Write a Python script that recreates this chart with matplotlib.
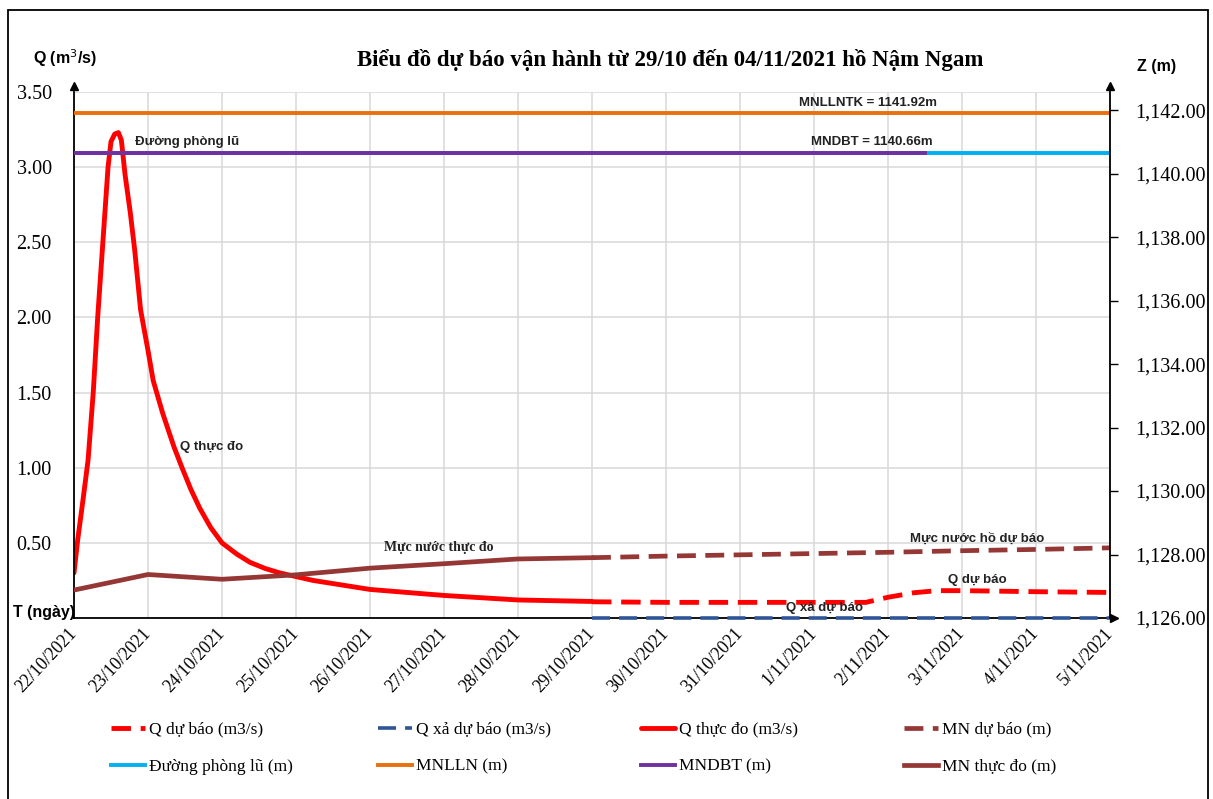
import matplotlib
matplotlib.use("Agg")
import matplotlib.pyplot as plt
from matplotlib.patches import Rectangle

SERIF = "Liberation Serif"
SANS = "Liberation Sans"

# ngày tính từ 22/10/2021
date_labels = ["22/10/2021", "23/10/2021", "24/10/2021", "25/10/2021", "26/10/2021",
               "27/10/2021", "28/10/2021", "29/10/2021", "30/10/2021", "31/10/2021",
               "1/11/2021", "2/11/2021", "3/11/2021", "4/11/2021", "5/11/2021"]
date_pos = list(range(len(date_labels)))

# Q thực đo (m3/s)
q_obs_t = [0, 0.05, 0.12, 0.19, 0.26, 0.32, 0.39, 0.46, 0.5, 0.55, 0.6, 0.64, 0.69, 0.76,
           0.82, 0.9, 1.0, 1.07, 1.2, 1.35, 1.46, 1.58, 1.7, 1.85, 2.0, 2.2, 2.38, 2.58,
           2.78, 3.23, 4, 5, 6, 7]
q_obs = [0.30, 0.52, 0.78, 1.05, 1.50, 2.00, 2.50, 3.00, 3.17, 3.22, 3.23, 3.18, 2.95, 2.70,
         2.45, 2.05, 1.78, 1.58, 1.36, 1.14, 1.00, 0.855, 0.73, 0.60, 0.50, 0.425, 0.37,
         0.33, 0.30, 0.25, 0.19, 0.15, 0.12, 0.11]

# Q dự báo (m3/s)
q_fc_t = [7, 8, 9, 10, 10.7, 11, 11.35, 11.66, 12, 13, 14]
q_fc = [0.108, 0.104, 0.104, 0.104, 0.104, 0.138, 0.168, 0.182, 0.182, 0.175, 0.17]

# Q xả dự báo (m3/s)
q_xa_t = [7, 8, 9, 10, 11, 12, 13, 14]
q_xa = [0, 0, 0, 0, 0, 0, 0, 0]

# MN thực đo (m)
z_obs_t = [0, 1, 2, 3, 4, 5, 6, 7]
z_obs = [1126.88, 1127.37, 1127.22, 1127.36, 1127.57, 1127.71, 1127.86, 1127.90]

# MN dự báo (m)
z_fc_t = [7, 8, 9, 10, 11, 12, 13, 14]
z_fc = [1127.90, 1127.95, 1127.99, 1128.03, 1128.07, 1128.12, 1128.16, 1128.21]

# mực nước đặc trưng
mnlln_t = [0, 14]
mnlln = [1141.92, 1141.92]
phonglu_t = [0, 14]
phonglu = [1140.66, 1140.66]
mndbt_t = [0, 11.5]
mndbt = [1140.66, 1140.66]

q_ticks = [0.5, 1.0, 1.5, 2.0, 2.5, 3.0, 3.5]
z_ticks = [1126, 1128, 1130, 1132, 1134, 1136, 1138, 1140, 1142]

RED = "#FF0000"; BROWN = "#953735"; NAVY = "#2F5597"; CYAN = "#00B0F0"
ORANGE = "#E8700F"; PURPLE = "#7030A0"; GRID = "#D9D9D9"

fig = plt.figure(figsize=(12.13, 7.99), dpi=100)
fig.patch.set_facecolor("white")
ax = fig.add_axes([74/1213, 1-618/799, (1110-74)/1213, (618-92)/799])
ax2 = ax.twinx()

ax.set_xlim(0, 14)
ax.set_ylim(0, 3.5)
ax2.set_ylim(1126, 1142.57)

# lưới + nhãn trục
ax.set_xticks(date_pos)
ax.set_xticklabels(date_labels, rotation=47, ha="right", va="center",
                   rotation_mode="anchor", fontsize=12.8, family=SERIF)
ax.set_yticks(q_ticks)
ax.set_yticklabels([f"{v:.2f}" for v in q_ticks], fontsize=14.5, family=SERIF)
ax.grid(True, color=GRID, lw=1.1)
ax.set_axisbelow(True)
ax.tick_params(axis="x", length=0, pad=9)
ax.tick_params(axis="y", length=0, pad=16)

ax2.set_yticks(z_ticks)
ax2.set_yticklabels([f"{v:,.2f}" for v in z_ticks], fontsize=14.5, family=SERIF)
ax2.tick_params(axis="y", length=6, width=1, direction="out", pad=12)

for a in (ax, ax2):
    a.spines["top"].set_visible(False)
    for s in ("left", "right", "bottom"):
        a.spines[s].set_linewidth(1.3)
ax.spines["right"].set_visible(False)
ax2.spines["left"].set_visible(False)
ax2.spines["bottom"].set_visible(False)
ax2.patch.set_visible(False)

# mũi tên đầu trục
ax.plot([0], [1.012], marker="^", ms=6, color="black", transform=ax.transAxes, clip_on=False)
ax.plot([1], [1.012], marker="^", ms=6, color="black", transform=ax.transAxes, clip_on=False)
ax.plot([1.004], [0], marker=">", ms=6, color="black", transform=ax.transAxes, clip_on=False)

# đường trên trục Q
l_qobs, = ax.plot(q_obs_t, q_obs, color=RED, lw=3.5, label="Q thực đo (m3/s)",
                  solid_capstyle="round", solid_joinstyle="round")
l_qfc, = ax.plot(q_fc_t, q_fc, color=RED, lw=3.5, ls=(0, (4, 2)), label="Q dự báo (m3/s)")
l_qxa, = ax.plot(q_xa_t, q_xa, color=NAVY, lw=2.6, ls=(0, (5, 2.5)), label="Q xả dự báo (m3/s)",
                 clip_on=False, zorder=5)

# đường trên trục Z
l_pl, = ax2.plot(phonglu_t, phonglu, color=CYAN, lw=2.8, label="Đường phòng lũ (m)")
l_mndbt, = ax2.plot(mndbt_t, mndbt, color=PURPLE, lw=2.8, label="MNDBT (m)")
l_mnlln, = ax2.plot(mnlln_t, mnlln, color=ORANGE, lw=2.8, label="MNLLN (m)")
l_zobs, = ax2.plot(z_obs_t, z_obs, color=BROWN, lw=3.4, label="MN thực đo (m)")
l_zfc, = ax2.plot(z_fc_t, z_fc, color=BROWN, lw=3.4, ls=(0, (4, 2)), label="MN dự báo (m)")

# chú thích trên đồ thị
ax.text(0.82, 3.17, "Đường phòng lũ", fontsize=9.5, fontweight="bold", family=SANS,
        color="#222222", ha="left", va="center")
ax.text(10.73, 3.43, "MNLLNTK = 1141.92m", fontsize=9.5, fontweight="bold", family=SANS,
        color="#222222", ha="center", va="center")
ax.text(10.78, 3.17, "MNDBT = 1140.66m", fontsize=9.5, fontweight="bold", family=SANS,
        color="#222222", ha="center", va="center")
ax.text(1.43, 1.14, "Q thực đo", fontsize=9.5, fontweight="bold", family=SANS,
        color="#222222", ha="left", va="center")
ax.text(4.19, 0.47, "Mực nước thực đo", fontsize=10, fontweight="bold", family=SERIF,
        color="#222222", ha="left", va="center")
ax.text(11.3, 0.53, "Mực nước hồ dự báo", fontsize=9.5, fontweight="bold", family=SANS,
        color="#222222", ha="left", va="center")
ax.text(11.81, 0.255, "Q dự báo", fontsize=9.5, fontweight="bold", family=SANS,
        color="#222222", ha="left", va="center")
ax.text(9.62, 0.068, "Q xả dự báo", fontsize=9.5, fontweight="bold", family=SANS,
        color="#222222", ha="left", va="center")

# tiêu đề và tên trục
fig.text(670/1213, 1-60/799, "Biểu đồ dự báo vận hành từ 29/10 đến 04/11/2021 hồ Nậm Ngam",
         fontsize=16.5, fontweight="bold", family=SERIF, ha="center", va="center")
fig.text(33/1213, 1-58/799, "Q (m$^3$/s)", fontsize=11.5, fontweight="bold", family=SANS,
         ha="left", va="center")
fig.text(1137/1213, 1-67/799, "Z (m)", fontsize=11.5, fontweight="bold", family=SANS,
         ha="left", va="center")
fig.text(13/1213, 1-612/799, "T (ngày)", fontsize=11.5, fontweight="bold", family=SANS,
         ha="left", va="center")

# chú giải: 4 cột x 2 hàng
cols = [(l_qfc, l_pl), (l_qxa, l_mnlln), (l_qobs, l_mndbt), (l_zfc, l_zobs)]
col_x = [102, 369, 632, 895]
for hs, cx in zip(cols, col_x):
    fig.legend(hs, [h.get_label() for h in hs], loc="upper left",
               bbox_to_anchor=(cx/1213, 1-713/799), frameon=False, borderpad=0,
               handlelength=2.0, handletextpad=0.2, labelspacing=1.2,
               prop={"family": SERIF, "size": 12.5})

# khung ngoài
fig.add_artist(Rectangle((8/1213, -0.02), 1200/1213, 1.02-10/799, transform=fig.transFigure,
                         fill=False, ec="black", lw=1.3))

fig.savefig("out.png", dpi=100, facecolor="white")
